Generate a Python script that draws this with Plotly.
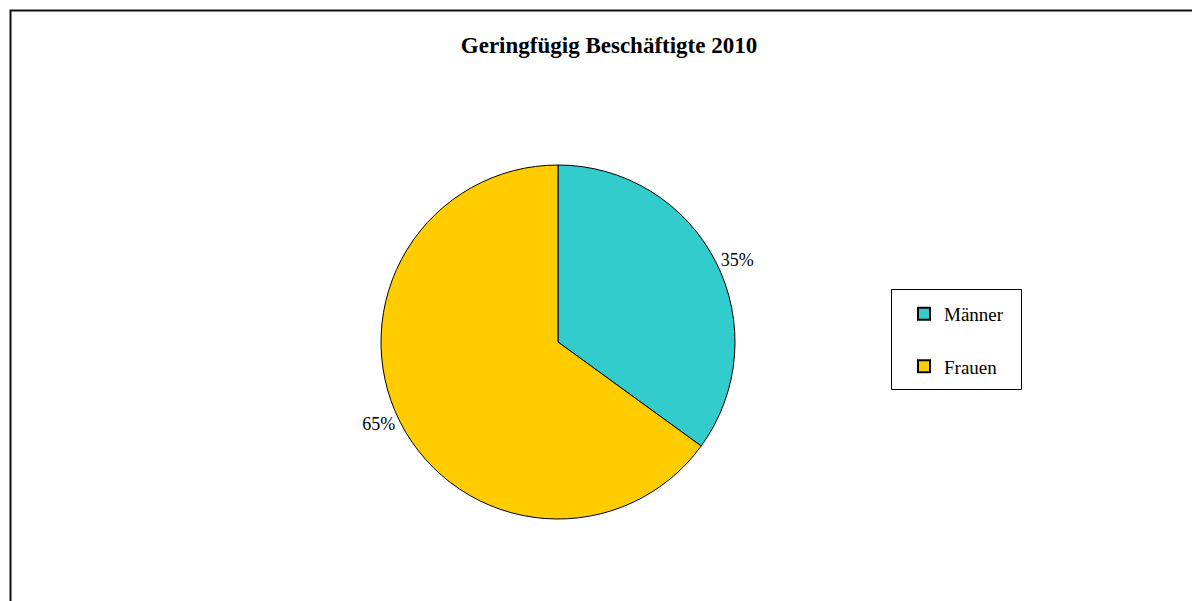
import plotly.graph_objects as go

# Geringfügig Beschäftigte 2010 – Anteil nach Geschlecht
categories = ["Männer", "Frauen"]
shares = [35, 65]
colors = ["#33CCCC", "#FFCC00"]

W, H = 1192, 601
cx, cy, r = 558, 342, 177

fig = go.Figure()
fig.add_trace(go.Pie(
    labels=[c + "<br>&nbsp;" for c in categories],
    values=shares,
    sort=False,
    direction="clockwise",
    rotation=0,
    marker=dict(colors=colors, line=dict(color="#000000", width=1)),
    textinfo="percent",
    texttemplate="%{percent:.0%}",
    textposition="outside",
    outsidetextfont=dict(family="Liberation Serif", size=18, color="#000000"),
    hoverinfo="skip",
    domain=dict(x=[(cx - 300) / W, (cx + 300) / W],
                y=[1 - (cy + r) / H, 1 - (cy - r) / H]),
))

fig.update_layout(
    width=W, height=H,
    margin=dict(l=0, r=0, t=0, b=0),
    paper_bgcolor="#FFFFFF",
    font=dict(family="Liberation Serif", size=18, color="#000000"),
    title=dict(text="<b>Geringfügig Beschäftigte 2010</b>",
               x=609 / W, xanchor="center", y=1 - 45 / H, yanchor="middle",
               font=dict(family="Liberation Serif", size=23, color="#000000")),
    legend=dict(x=904 / W, y=1 - 295 / H, xanchor="left", yanchor="top",
                bgcolor="rgba(0,0,0,0)", borderwidth=0,
                font=dict(family="Liberation Serif", size=19, color="#000000"),
                itemsizing="constant", valign="top"),
    shapes=[
        dict(type="rect", xref="paper", yref="paper",
             x0=10.5 / W, x1=1.2, y0=-0.2, y1=1 - 10.5 / H,
             line=dict(color="#111111", width=2)),
        dict(type="rect", xref="paper", yref="paper",
             x0=891.5 / W, x1=1021.5 / W, y0=1 - 389.5 / H, y1=1 - 289.5 / H,
             line=dict(color="#000000", width=1)),
    ],
)

fig.write_html("out.html")
